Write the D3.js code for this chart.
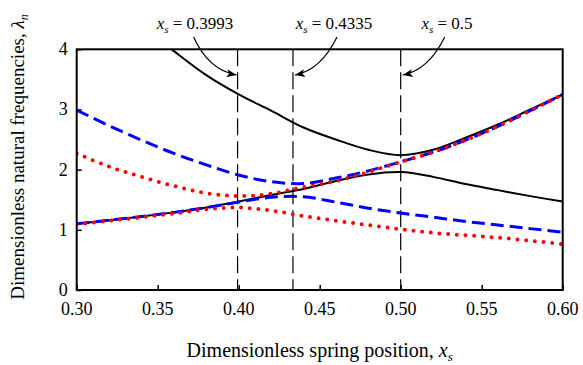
<!DOCTYPE html>
<html>
<head>
<meta charset="utf-8">
<script src="https://cdn.jsdelivr.net/npm/d3@7"></script>
<style>
  body { margin: 0; background: #fff; }
</style>
</head>
<body>
<div id="chart"></div>
<script>
// spring position grid
const xs = [0.30, 0.32, 0.34, 0.36, 0.38, 0.40, 0.42, 0.44, 0.46, 0.48, 0.50, 0.52, 0.54, 0.56, 0.58, 0.60];

// solid black
const blackUpper = [5.40, 4.85, 4.38, 3.97, 3.57, 3.25, 2.98, 2.70, 2.50, 2.33, 2.24, 2.33, 2.53, 2.75, 3.00, 3.25];
const blackLower = [1.10, 1.16, 1.22, 1.29, 1.37, 1.47, 1.58, 1.68, 1.81, 1.92, 1.96, 1.88, 1.76, 1.66, 1.56, 1.47];
// blue dashed
const blueUpper = [2.99, 2.73, 2.49, 2.27, 2.08, 1.91, 1.80, 1.77, 1.86, 1.98, 2.13, 2.29, 2.49, 2.72, 2.98, 3.25];
const blueLower = [1.10, 1.16, 1.22, 1.29, 1.37, 1.46, 1.54, 1.55, 1.46, 1.36, 1.28, 1.21, 1.14, 1.08, 1.02, 0.96];
// red dotted
const redUpper = [2.27, 2.05, 1.88, 1.73, 1.61, 1.56, 1.60, 1.71, 1.81, 1.96, 2.13, 2.29, 2.49, 2.72, 2.98, 3.25];
const redLower = [1.09, 1.15, 1.21, 1.27, 1.34, 1.37, 1.32, 1.23, 1.15, 1.08, 1.01, 0.95, 0.91, 0.87, 0.82, 0.76];

const marks = [0.3993, 0.4335, 0.5];
const markLabels = ['0.3993', '0.4335', '0.5'];
const xTicks = [0.30, 0.35, 0.40, 0.45, 0.50, 0.55, 0.60];
const yTicks = [0, 1, 2, 3, 4];

const W = 583, H = 365;
const FONT = '"Liberation Serif", "DejaVu Serif", serif';
const margin = {top: 49.3, right: 20.3, bottom: 75, left: 76.7};
const width = W - margin.left - margin.right,
      height = H - margin.top - margin.bottom;

const svg = d3.select('#chart').append('svg')
    .attr('width', W)
    .attr('height', H)
    .attr('font-family', FONT);

const defs = svg.append('defs');
defs.append('clipPath').attr('id', 'clip')
  .append('rect').attr('width', width).attr('height', height);
defs.append('marker')
    .attr('id', 'head')
    .attr('viewBox', '0 0 10 8')
    .attr('refX', 10).attr('refY', 4)
    .attr('markerWidth', 11).attr('markerHeight', 8)
    .attr('markerUnits', 'userSpaceOnUse')
    .attr('orient', 'auto')
  .append('path').attr('d', 'M0,0 L10,4 L0,8 L2.5,4 Z').attr('fill', '#000');

const g = svg.append('g')
    .attr('transform', 'translate(' + margin.left + ',' + margin.top + ')');

const scaleX = d3.scaleLinear().domain([0.30, 0.60]).range([0, width]);
const scaleY = d3.scaleLinear().domain([0, 4]).range([height, 0]);

// ticks inward, bottom and left
const xAxis = d3.axisTop(scaleX).tickValues(xTicks).tickSize(5).tickFormat('');
const yAxis = d3.axisRight(scaleY).tickValues(yTicks).tickSize(5).tickFormat('');

g.append('g').attr('transform', 'translate(0,' + height + ')').call(xAxis)
  .call(a => a.select('.domain').remove())
  .selectAll('line').attr('stroke-width', 1.5);
g.append('g').call(yAxis)
  .call(a => a.select('.domain').remove())
  .selectAll('line').attr('stroke-width', 1.5);

g.selectAll('.xlab').data(xTicks).enter().append('text')
    .attr('font-family', FONT)
    .attr('x', d => scaleX(d))
    .attr('y', height + 25)
    .attr('text-anchor', 'middle')
    .attr('font-size', 18)
    .text(d => d.toFixed(2));
g.selectAll('.ylab').data(yTicks).enter().append('text')
    .attr('font-family', FONT)
    .attr('x', -9)
    .attr('y', d => scaleY(d) + 6)
    .attr('text-anchor', 'end')
    .attr('font-size', 18)
    .text(d => d);

// vertical marker lines
g.selectAll('.vline').data(marks).enter().append('line')
    .attr('x1', d => scaleX(d)).attr('x2', d => scaleX(d))
    .attr('y1', 0).attr('y2', height)
    .attr('stroke', '#000').attr('stroke-width', 1.2)
    .attr('stroke-dasharray', '17 6');

const line = d3.line()
    .x((d, i) => scaleX(xs[i]))
    .y(d => scaleY(d))
    .curve(d3.curveCatmullRom.alpha(0.5));

const plot = g.append('g').attr('clip-path', 'url(#clip)');

const series = [
  {v: blackUpper, color: '#000', w: 2, dash: null},
  {v: blackLower, color: '#000', w: 2, dash: null},
  {v: blueUpper, color: '#0000ff', w: 3, dash: '13 6'},
  {v: blueLower, color: '#0000ff', w: 3, dash: '13 6'},
  {v: redUpper, color: '#ff0000', w: 4, dash: '0 8.7'},
  {v: redLower, color: '#ff0000', w: 4, dash: '0 8.7'}
];
series.forEach(s => {
  plot.append('path')
      .attr('d', line(s.v))
      .attr('fill', 'none')
      .attr('stroke', s.color)
      .attr('stroke-width', s.w)
      .attr('stroke-linecap', s.dash === '0 8.7' ? 'round' : 'butt')
      .attr('stroke-dasharray', s.dash);
});

// frame
g.append('rect')
    .attr('width', width).attr('height', height)
    .attr('fill', 'none').attr('stroke', '#000').attr('stroke-width', 2);

// annotations: label + curved arrow down to each marker
const lab = [{cx: 195, bend: 1}, {cx: 334, bend: -1}, {cx: 447, bend: -1}];
marks.forEach((m, i) => {
  const t = svg.append('text')
      .attr('font-family', FONT)
      .attr('x', lab[i].cx).attr('y', 29.3)
      .attr('text-anchor', 'middle')
      .attr('font-size', 17);
  t.append('tspan').attr('font-style', 'italic').text('x');
  t.append('tspan').attr('font-style', 'italic').attr('font-size', 11).attr('dy', 4).text('s');
  t.append('tspan').attr('dy', -4).text(' = ' + markLabels[i]);

  const tipX = margin.left + scaleX(m) + (lab[i].bend > 0 ? -1 : 2);
  const tipY = 75;
  const sx = lab[i].bend > 0 ? tipX - 43 : tipX + 42;
  const sy = 37;
  const cx = lab[i].bend > 0 ? tipX - 28 : tipX + 26;
  svg.append('path')
      .attr('d', 'M' + sx + ',' + sy + ' Q' + cx + ',70 ' + tipX + ',' + tipY)
      .attr('fill', 'none').attr('stroke', '#000').attr('stroke-width', 1.2)
      .attr('marker-end', 'url(#head)');
});

// axis titles
const xt = svg.append('text')
    .attr('font-family', FONT)
    .attr('x', margin.left + width / 2).attr('y', 357)
    .attr('text-anchor', 'middle')
    .attr('font-size', 20);
xt.append('tspan').text('Dimensionless spring position, ');
xt.append('tspan').attr('font-style', 'italic').text('x');
xt.append('tspan').attr('font-style', 'italic').attr('font-size', 13).attr('dy', 4).text('s');

const yt = svg.append('text')
    .attr('font-family', FONT)
    .attr('transform', 'translate(24,' + 157 + ') rotate(-90)')
    .attr('text-anchor', 'middle')
    .attr('font-size', 19);
yt.append('tspan').text('Dimensionless natural frequencies, ');
yt.append('tspan').attr('font-style', 'italic').text('λ');
yt.append('tspan').attr('font-style', 'italic').attr('font-size', 12).attr('dy', 4).text('n');
</script>
</body>
</html>
